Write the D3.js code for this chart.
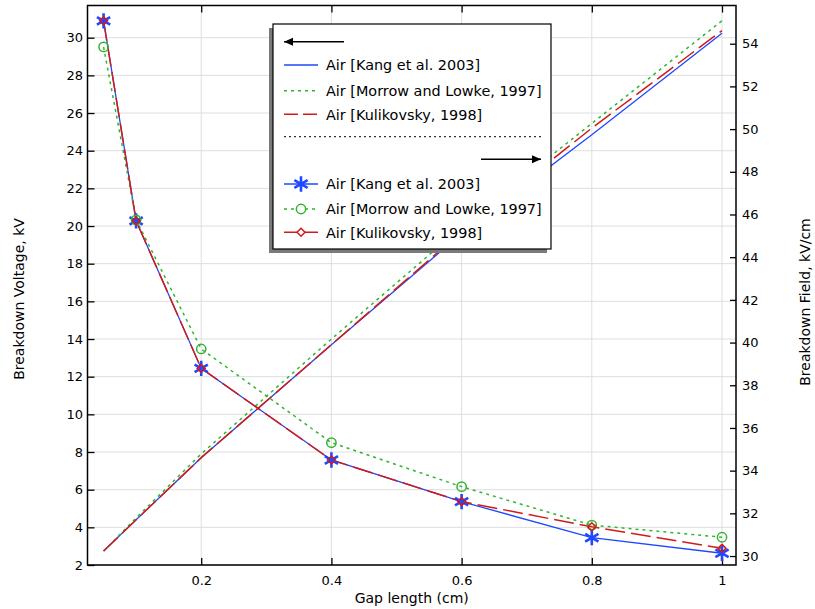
<!DOCTYPE html>
<html>
<head>
<meta charset="utf-8">
<script src="https://cdn.jsdelivr.net/npm/d3@7"></script>
<style>
  body { margin: 0; background: #fff; }
  text { font-family: "DejaVu Sans", sans-serif; font-size: 13px; fill: #000; }
</style>
</head>
<body>
<script>
"use strict";

// gap length (cm) – shared x values
var gapLength = [0.05, 0.1, 0.2, 0.4, 0.6, 0.8, 1];

// breakdown voltage, kV (left axis)
var voltKang = [2.74, 4.4, 7.7, 13.7, 19.6, 24.85, 30.24];
var voltMorrow = [2.74, 4.5, 7.9, 14.0, 19.95, 25.45, 30.9];
var voltKulik = [2.74, 4.4, 7.7, 13.7, 19.7, 25.2, 30.38];

// breakdown field, kV/cm (right axis)
var fieldKang = [55.07, 45.7, 38.79, 34.5, 32.55, 30.86, 30.13];
var fieldMorrow = [53.85, 45.75, 39.7, 35.31, 33.25, 31.45, 30.88];
var fieldKulik = [55.07, 45.7, 38.79, 34.5, 32.55, 31.37, 30.36];

var seriesNames = ["Air [Kang et al. 2003]", "Air [Morrow and Lowke, 1997]", "Air [Kulikovsky, 1998]"];

var xTicks = [0.2, 0.4, 0.6, 0.8, 1];
var yLeftTicks = d3.range(2, 31, 2);
var yRightTicks = d3.range(30, 55, 2);

var W = 815, H = 609;
var L = 87.5, R = 736, T = 5.5, B = 565;

var blue = "#1f48ff", green = "#2fb52f", red = "#d21a1a";

var svg = d3.select("body").append("svg").attr("width", W).attr("height", H);

var x = d3.scaleLinear().domain([0.0253, 1.0215]).range([L, R]);
var yL = d3.scaleLinear().domain([2, 31.71]).range([B, T]);
var yR = d3.scaleLinear().domain([29.58, 55.79]).range([B, T]);

svg.append("defs").append("clipPath").attr("id", "clip")
  .append("rect").attr("x", L).attr("y", T).attr("width", R - L).attr("height", B - T);

// grid
var grid = svg.append("g").attr("stroke", "#dedede").attr("stroke-width", 1);
grid.selectAll(".gx").data(xTicks).enter().append("line")
  .attr("x1", function (d) { return x(d); }).attr("x2", function (d) { return x(d); })
  .attr("y1", T).attr("y2", B);
grid.selectAll(".gy").data(yLeftTicks).enter().append("line")
  .attr("x1", L).attr("x2", R)
  .attr("y1", function (d) { return yL(d); }).attr("y2", function (d) { return yL(d); });

// axes
function styleAxis(g) {
  g.select(".domain").remove();
  g.selectAll(".tick line").attr("stroke", "#000").attr("stroke-width", 1.3);
  g.selectAll(".tick text").attr("font-family", "DejaVu Sans").attr("font-size", 13.5).attr("fill", "#000");
}
svg.append("g").attr("transform", "translate(0," + B + ")")
  .call(d3.axisBottom(x).tickValues(xTicks).tickFormat(d3.format("~g")).tickSize(-7).tickPadding(10.5))
  .call(styleAxis);
svg.append("g").attr("transform", "translate(0," + T + ")")
  .call(d3.axisTop(x).tickValues(xTicks).tickFormat("").tickSize(-7))
  .call(styleAxis);
svg.append("g").attr("transform", "translate(" + L + ",0)")
  .call(d3.axisLeft(yL).tickValues(yLeftTicks).tickSize(-7).tickPadding(4.5))
  .call(styleAxis);
svg.append("g").attr("transform", "translate(" + R + ",0)")
  .call(d3.axisRight(yR).tickValues(yRightTicks).tickSize(-6).tickPadding(6))
  .call(styleAxis);

svg.append("rect").attr("x", L).attr("y", T).attr("width", R - L).attr("height", B - T)
  .attr("fill", "none").attr("stroke", "#000").attr("stroke-width", 1.5);

// axis titles
svg.append("text").attr("x", (L + R) / 2).attr("y", 603).attr("text-anchor", "middle")
  .style("font-size", "14px").text("Gap length (cm)");
svg.append("text").attr("transform", "translate(24,299) rotate(-90)").attr("text-anchor", "middle")
  .style("font-size", "14px").text("Breakdown Voltage, kV");
svg.append("text").attr("transform", "translate(810,302) rotate(-90)").attr("text-anchor", "middle")
  .style("font-size", "14px").text("Breakdown Field, kV/cm");

// custom marker shapes
var asterisk = d3.symbolAsterisk || {
  draw: function (ctx, size) {
    var r = Math.sqrt(size) * 0.6;
    for (var i = 0; i < 3; i++) {
      var a = Math.PI / 2 + i * Math.PI / 3;
      ctx.moveTo(r * Math.cos(a), r * Math.sin(a));
      ctx.lineTo(-r * Math.cos(a), -r * Math.sin(a));
    }
  }
};
var diamondSq = {
  draw: function (ctx, size) {
    var r = Math.sqrt(size) * 0.63;
    ctx.moveTo(0, -r); ctx.lineTo(r, 0); ctx.lineTo(0, r); ctx.lineTo(-r, 0); ctx.closePath();
  }
};

var voltSeries = [
  { name: seriesNames[0], values: voltKang, color: blue, dash: null, width: 1.3 },
  { name: seriesNames[1], values: voltMorrow, color: green, dash: "3,4", width: 1.5 },
  { name: seriesNames[2], values: voltKulik, color: red, dash: "20,6", width: 1.5 }
];
var fieldSeries = [
  { name: seriesNames[0], values: fieldKang, color: blue, dash: null, width: 1.3, sym: asterisk, size: 165, sw: 2.6 },
  { name: seriesNames[1], values: fieldMorrow, color: green, dash: "3,4", width: 1.5, sym: d3.symbolCircle, size: 68, sw: 1.5 },
  { name: seriesNames[2], values: fieldKulik, color: red, dash: "20,6", width: 1.5, sym: diamondSq, size: 40, sw: 1.5 }
];

var plot = svg.append("g").attr("clip-path", "url(#clip)");

function drawLine(s, yScale) {
  var line = d3.line()
    .x(function (d, i) { return x(gapLength[i]); })
    .y(function (d) { return yScale(d); });
  plot.append("path").datum(s.values)
    .attr("d", line).attr("fill", "none")
    .attr("stroke", s.color).attr("stroke-width", s.width)
    .attr("stroke-dasharray", s.dash);
}
voltSeries.forEach(function (s) { drawLine(s, yL); });
fieldSeries.forEach(function (s) { drawLine(s, yR); });

fieldSeries.forEach(function (s) {
  plot.selectAll(null).data(s.values).enter().append("path")
    .attr("transform", function (d, i) { return "translate(" + x(gapLength[i]) + "," + yR(d) + ")"; })
    .attr("d", d3.symbol().type(s.sym).size(s.size))
    .attr("fill", "none").attr("stroke", s.color).attr("stroke-width", s.sw);
});

// legend
var lg = svg.append("g").attr("transform", "translate(273,24)");
var lw = 278, lh = 225;
lg.append("rect").attr("x", -4).attr("y", 4).attr("width", lw).attr("height", lh).attr("fill", "#7a7a7a");
lg.append("rect").attr("width", lw).attr("height", lh).attr("fill", "#fff").attr("stroke", "#000").attr("stroke-width", 1.2);

function arrow(x1, x2, y, left) {
  lg.append("line").attr("x1", x1).attr("x2", x2).attr("y1", y).attr("y2", y).attr("stroke", "#000").attr("stroke-width", 1.5);
  var tip = left ? x1 : x2, back = left ? x1 + 9 : x2 - 9;
  lg.append("path").attr("d", "M" + tip + "," + y + "L" + back + "," + (y - 4) + "L" + back + "," + (y + 4) + "Z").attr("fill", "#000");
}
arrow(11, 71, 17.7, true);

var rowY1 = [41, 66.7, 90.3];
voltSeries.forEach(function (s, i) {
  lg.append("line").attr("x1", 11).attr("x2", 45).attr("y1", rowY1[i]).attr("y2", rowY1[i])
    .attr("stroke", s.color).attr("stroke-width", s.width)
    .attr("stroke-dasharray", s.dash === "20,6" ? "14,5" : s.dash);
  lg.append("text").attr("x", 53).attr("y", rowY1[i] + 5.3).style("font-size", "14.4px").text(s.name);
});

lg.append("line").attr("x1", 11).attr("x2", 268).attr("y1", 112.7).attr("y2", 112.7)
  .attr("stroke", "#000").attr("stroke-width", 1).attr("stroke-dasharray", "2,3");
arrow(208, 268, 135.3, false);

var rowY2 = [160, 185, 208.3];
fieldSeries.forEach(function (s, i) {
  lg.append("line").attr("x1", 11).attr("x2", 45).attr("y1", rowY2[i]).attr("y2", rowY2[i])
    .attr("stroke", s.color).attr("stroke-width", s.width)
    .attr("stroke-dasharray", s.dash === "20,6" ? null : s.dash);
  lg.append("path").attr("transform", "translate(28," + rowY2[i] + ")")
    .attr("d", d3.symbol().type(s.sym).size(s.size))
    .attr("fill", "#fff").attr("stroke", s.color).attr("stroke-width", s.sw);
  lg.append("text").attr("x", 53).attr("y", rowY2[i] + 5.3).style("font-size", "14.4px").text(s.name);
});
</script>
</body>
</html>
